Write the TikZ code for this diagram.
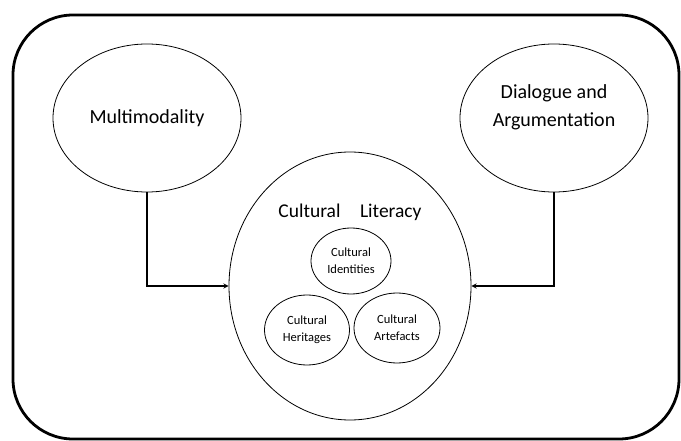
\documentclass[tikz,border=0pt]{standalone}
\usepackage{fontspec}
\setmainfont{Carlito}
\usetikzlibrary{shapes.geometric, arrows, positioning}
\tikzset{
    >=stealth, % small filled arrow heads
    topic/.style={ellipse, draw, line width=0.8pt, inner sep=0pt, align=center,
        font=\fontsize{20}{28}\selectfont}, % the two outer ideas
    part/.style={ellipse, draw, line width=0.8pt, inner sep=0pt, align=center,
        font=\fontsize{12.5}{17}\selectfont}, % the three small circles
    link/.style={->, line width=1.3pt}, % connectors into the big circle
}

\begin{document}
\begin{tikzpicture}[x=1pt, y=-1pt]

        \useasboundingbox (0,0) rectangle (681,441);

        % Frame
        \draw[line width=2.8pt, rounded corners=60pt] (13,15) rectangle (679,439);

        % Nodes
        \node[topic, minimum width=188pt, minimum height=148pt] (multi) at (147,118) {Multimodality};
        \node[topic, minimum width=188pt, minimum height=148pt, text depth=24pt] (dialog) at (554,118) {Dialogue and\\Argumentation};
        \node[ellipse, draw, line width=0.8pt, minimum width=242pt, minimum height=268pt] (literacy) at (350,286) {};
        \node[font=\fontsize{19.5}{22}\selectfont] (title) at (350,212) {Cultural\quad Literacy};
        \node[part, minimum width=80pt, minimum height=66pt] (identity) at (351,261) {Cultural\\Identities};
        \node[part, minimum width=85pt, minimum height=70pt] (heritage) at (307,330) {Cultural\\Heritages};
        \node[part, minimum width=86pt, minimum height=70pt] (artefact) at (397,328) {Cultural\\Artefacts};

        % edges
        \draw[link] (multi.south) |- (literacy.west);
        \draw[link] (dialog.south) |- (literacy.east);

\end{tikzpicture}
\end{document}
